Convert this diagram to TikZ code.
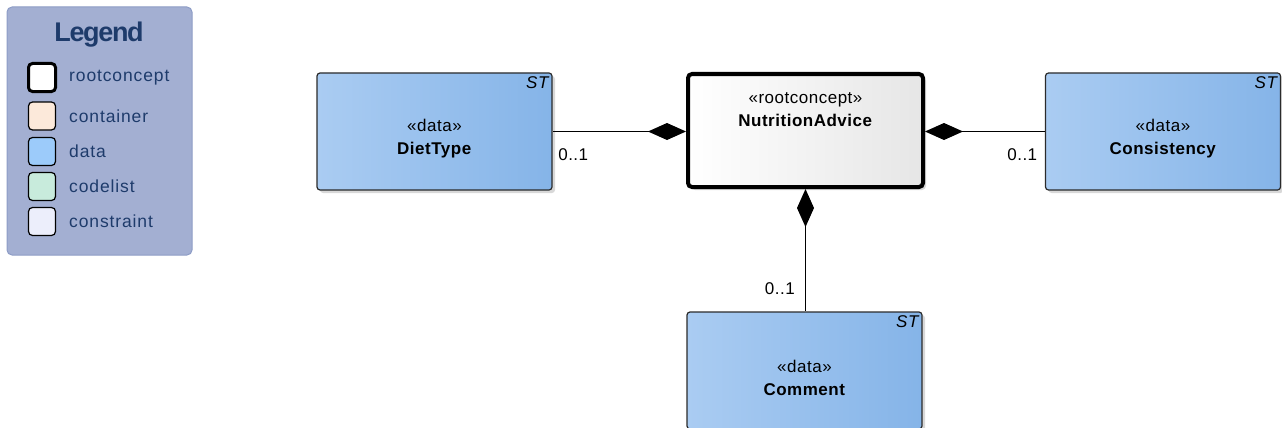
\documentclass[tikz,border=0pt]{standalone}
\usepackage{xcolor}
\usepackage{fontspec}
\usepackage{tikz}
\usetikzlibrary{calc,arrows.meta,shadows}
\newfontfamily\umlfont[LetterSpace=3]{Liberation Sans}
\newfontfamily\entryfont[LetterSpace=5]{Liberation Sans}
\newfontfamily\titlefont[LetterSpace=-5]{Liberation Sans}

\definecolor{legendfill}{HTML}{A3AFD2}
\definecolor{legendline}{HTML}{8D9CC6}
\definecolor{legendtext}{HTML}{1E3B6B}
\definecolor{containerfill}{HTML}{FCE9DA}
\definecolor{datafill}{HTML}{9CCBFA}
\definecolor{codelistfill}{HTML}{C8EBDC}
\definecolor{constraintfill}{HTML}{ECEEFB}
\definecolor{dataleft}{HTML}{AACCF2}
\definecolor{dataright}{HTML}{85B4E8}
\definecolor{boxline}{HTML}{2B2B2B}
\definecolor{rootright}{HTML}{E6E6E6}

\begin{document}
\begin{tikzpicture}[x=1pt,y=-1pt,
  databox/.style={draw=boxline, line width=1.2pt, rounded corners=3pt, left color=dataleft, right color=dataright, minimum width=\BOXW pt, minimum height=\BOXH pt, drop shadow={shadow xshift=3pt, shadow yshift=-3pt, fill=black!30, opacity=0.5},
    label={[anchor=north east, inner sep=4pt, font=\umlfont\itshape\fontsize{17}{20}\selectfont]north east:ST}},
  rootbox/.style={draw=black, line width=4pt, rounded corners=4pt, left color=white, right color=rootright, minimum width=235pt, minimum height=113pt, drop shadow={shadow xshift=3pt, shadow yshift=-3pt, fill=black!30, opacity=0.5}},
  boxtext/.style={align=center, inner sep=0pt, font=\umlfont\fontsize{17}{23}\selectfont},
  comp/.style={line width=1.4pt, {Diamond[length=38pt,width=17pt]}-},
  mult/.style={inner sep=0pt, font=\umlfont\fontsize{17}{20}\selectfont},
  swatch/.style={draw=black, line width=1.2pt, rounded corners=4pt, minimum width=27pt, minimum height=28pt},
  legendentry/.style={anchor=west, inner sep=0pt, text=legendtext, font=\entryfont\fontsize{17.5}{20}\selectfont}]

\def\BOXW{235}
\def\BOXH{117}

\useasboundingbox (0,0) rectangle (1282,428);

% legend
\node at (99.5,131) [draw=legendline, line width=1pt, fill=legendfill, rounded corners=5pt, minimum width=185pt, minimum height=248pt] (legend) {};
\node at (99,35) [text=legendtext, font=\titlefont\bfseries\fontsize{27}{30}\selectfont] (legendtitle) {Legend};
\node at (42,77.5) [swatch, line width=3pt, fill=white] (rootswatch) {};
\node at (42,116) [swatch, fill=containerfill] (containerswatch) {};
\node at (42,151.5) [swatch, fill=datafill] (dataswatch) {};
\node at (42,186.5) [swatch, fill=codelistfill] (codelistswatch) {};
\node at (42,221.5) [swatch, fill=constraintfill] (constraintswatch) {};
\node at (69,77.5) [legendentry] (rootentry) {rootconcept};
\node at (69,116) [legendentry] (containerentry) {container};
\node at (69,151.5) [legendentry] (dataentry) {data};
\node at (69,186.5) [legendentry] (codelistentry) {codelist};
\node at (69,221.5) [legendentry] (constraintentry) {constraint};

% classes
\node at (805.5,130.5) [rootbox] (nutrition) {};
\node at (nutrition.center) [boxtext, yshift=21pt] (nutritiontext) {«rootconcept»\\\textbf{NutritionAdvice}};
\node at (434.5,131.5) [databox] (diettype) {};
\node at (diettype.center) [boxtext, yshift=-7pt] (diettypetext) {«data»\\\textbf{DietType}};
\node at (1163,131.5) [databox] (consistency) {};
\node at (consistency.center) [boxtext, yshift=-7pt] (consistencytext) {«data»\\\textbf{Consistency}};
\node at (804.5,370.5) [databox] (comment) {};
\node at (comment.center) [boxtext, yshift=-7pt] (commenttext) {«data»\\\textbf{Comment}};

% compositions
\draw[comp] (nutrition.west |- diettype.east) -- (diettype.east)
  node[mult, pos=1, anchor=north west, xshift=5pt, yshift=-16pt] {0..1};
\draw[comp] (nutrition.east |- consistency.west) -- (consistency.west)
  node[mult, pos=1, anchor=north east, xshift=-7pt, yshift=-16pt] {0..1};
\draw[comp] (nutrition.south) -- (nutrition.south |- comment.north)
  node[mult, pos=1, anchor=south east, xshift=-10pt, yshift=16pt] {0..1};

\end{tikzpicture}
\end{document}
